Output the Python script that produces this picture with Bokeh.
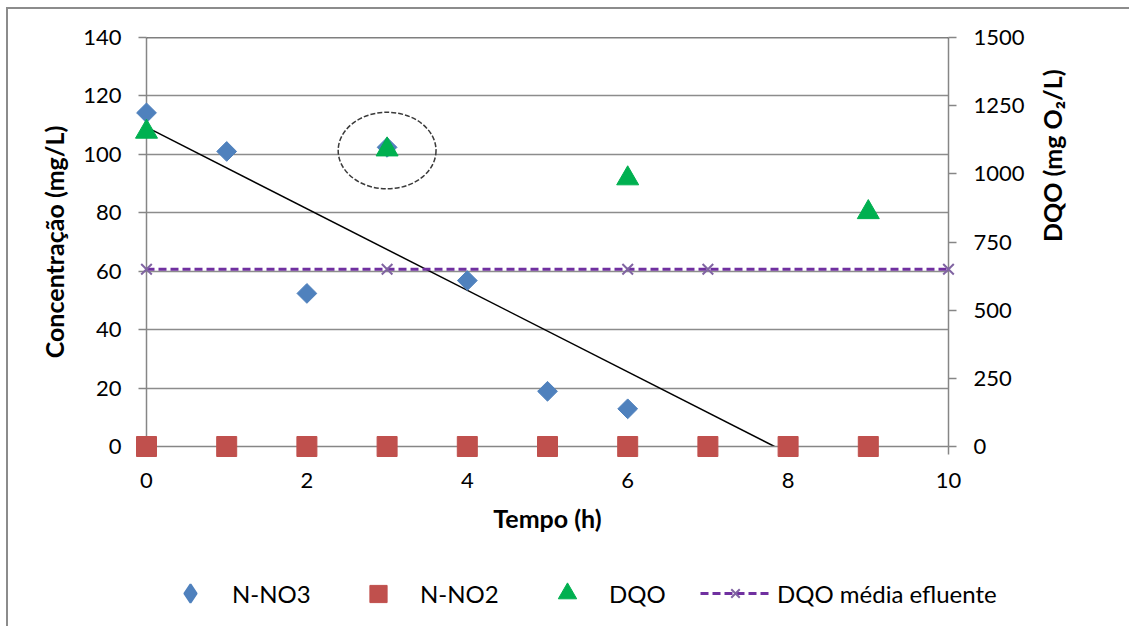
import math
from bokeh.plotting import figure
from bokeh.layouts import column
from bokeh.models import (Range1d, LinearAxis, Span, Legend, LegendItem,
                          FixedTicker, InlineStyleSheet)
from bokeh.embed import file_html
from bokeh.resources import INLINE

# ---- data ----
tempo_no3 = [0, 1, 2, 3, 4, 5, 6]
n_no3 = [114.2, 101.0, 52.4, 102.4, 56.8, 18.9, 12.9]
tempo_no2 = [0, 1, 2, 3, 4, 5, 6, 7, 8, 9]
n_no2 = [0, 0, 0, 0, 0, 0, 0, 0, 0, 0]
tempo_dqo = [0, 3, 6, 9]
dqo = [1154, 1089, 983, 859]
tempo_media = [0, 3, 6, 7, 10]
dqo_media = [650, 650, 650, 650, 650]
trend_x = [0, 7.83]
trend_y = [109.3, 0]
circle_x = [3.0]
circle_y = [101.3]
circle_w = [1.22]
circle_h = [26.2]
x_ticks = [0, 2, 4, 6, 8, 10]
left_ticks = [0, 20, 40, 60, 80, 100, 120, 140]
right_ticks = [0, 250, 500, 750, 1000, 1250, 1500]
labels = ["N-NO3", "N-NO2", "DQO", "DQO média efluente"]

FONT = "Lato"
AX = "#868686"
C_NO3, C_NO2, C_DQO, C_ML, C_MX = "#4F81BD", "#C0504D", "#00B050", "#7030A0", "#8064A2"

p = figure(width=1123, height=547,
           output_backend="svg", toolbar_location=None,
           x_range=Range1d(0, 10), y_range=Range1d(0, 140),
           min_border_left=138, min_border_right=183,
           min_border_top=28, min_border_bottom=110)
p.extra_y_ranges = {"dqo": Range1d(0, 1500)}
p.outline_line_color = None
p.background_fill_color = "white"
p.border_fill_color = "white"

p.xgrid.visible = False
p.ygrid.ticker = FixedTicker(ticks=left_ticks)
p.ygrid.grid_line_color = "#8c8c8c"
p.ygrid.grid_line_width = 1.5

right = LinearAxis(y_range_name="dqo", ticker=FixedTicker(ticks=right_ticks))
p.add_layout(right, "right")

p.xaxis.ticker = FixedTicker(ticks=x_ticks)
p.yaxis[0].ticker = FixedTicker(ticks=left_ticks)

for ax in [p.xaxis[0], p.yaxis[0], right]:
    ax.axis_line_color = AX
    ax.axis_line_width = 1.5
    ax.major_tick_line_color = AX
    ax.major_tick_line_width = 1.5
    ax.major_tick_in = 0
    ax.major_tick_out = 8
    ax.minor_tick_line_color = None
    ax.major_label_text_font = FONT
    ax.major_label_text_font_size = "22px"
    ax.major_label_text_color = "black"
    ax.axis_label_text_font = FONT
    ax.axis_label_text_font_size = "25px"
    ax.axis_label_text_font_style = "bold"
    ax.axis_label_text_color = "black"

p.xaxis[0].axis_label = "Tempo (h)"
p.xaxis[0].major_label_standoff = 18
p.xaxis[0].axis_label_standoff = 12
p.yaxis[0].axis_label = "Concentração (mg/L)"
p.yaxis[0].major_label_standoff = 17
p.yaxis[0].axis_label_standoff = 11
right.axis_label = "DQO (mg O₂/L)"
right.major_label_standoff = 17
right.axis_label_standoff = 24
right.axis_label_orientation = math.pi / 2

p.add_layout(Span(location=140, dimension="width", line_color="black", line_width=1.5))

# trend line and ellipse
p.line(trend_x, trend_y, line_color="black", line_width=1.5)
p.ellipse(x=circle_x, y=circle_y, width=circle_w, height=circle_h,
          fill_color=None, line_color="#3a3a3a", line_width=1.5, line_dash="5 2")

# mean line
p.line(tempo_media, dqo_media, y_range_name="dqo", line_color=C_ML,
       line_width=3, line_dash="8 4")
r_mx = p.scatter(tempo_media, dqo_media, y_range_name="dqo", marker="x", size=15,
                 line_color=C_MX, line_width=2)
r_mx.level = "overlay"

r_no3 = p.scatter(tempo_no3, n_no3, marker="square", angle=math.pi / 4, size=14,
                  fill_color=C_NO3, line_color=C_NO3)
r_no3.level = "overlay"
r_no2 = p.scatter(tempo_no2, n_no2, marker="square", size=20,
                  fill_color=C_NO2, line_color=C_NO2)
r_no2.level = "overlay"
r_dqo = p.scatter(tempo_dqo, dqo, y_range_name="dqo", marker="triangle", size=22,
                  fill_color=C_DQO, line_color=C_DQO)
r_dqo.level = "overlay"

# ---- legend strip: separate figure whose view range excludes the data ----
q = figure(width=1123, height=72, output_backend="svg", toolbar_location=None,
           x_range=Range1d(-200, -199), y_range=Range1d(-200, -199),
           x_axis_location=None, y_axis_location=None,
           min_border_left=0, min_border_right=0, min_border_top=0, min_border_bottom=0)
q.frame_align = False
q.grid.visible = False
q.outline_line_color = None
q.background_fill_color = "white"
q.border_fill_color = "white"

l1 = q.scatter(tempo_no3, n_no3, marker="diamond", size=20,
               fill_color=C_NO3, line_color=C_NO3, line_width=2)
l2 = q.scatter(tempo_no2, n_no2, marker="square", size=20, fill_color=C_NO2, line_color=C_NO2)
l3 = q.scatter(tempo_dqo, dqo, marker="triangle", size=22, fill_color=C_DQO, line_color=C_DQO)
l4a = q.line(tempo_media, dqo_media, line_color=C_ML, line_width=3, line_dash="8 4")
l4b = q.scatter(tempo_media, dqo_media, marker="x", size=15, line_color=C_MX, line_width=2)

groups = [[l1], [l2], [l3], [l4a, l4b]]
xs = [147, 335, 524, 692]
gh = [46, 43, 46, 30]
for lab, rs, x0, h in zip(labels, groups, xs, gh):
    lg = Legend(items=[LegendItem(label=lab, renderers=rs)], location=(x0, 35 - h / 2),
                orientation="horizontal", glyph_width=70, glyph_height=h,
                label_height=28, label_standoff=7, padding=0, margin=0, spacing=0,
                border_line_color=None, background_fill_alpha=0,
                label_text_font=FONT, label_text_font_size="24px",
                label_text_color="black")
    q.add_layout(lg, "center")

layout = column(p, q, margin=(9, 0, 0, 8), spacing=0)
layout.stylesheets = [InlineStyleSheet(css=":host { box-shadow: -2px -2px 0 0 #8c8c8c; }")]

open("out.html", "w").write(file_html(layout, INLINE))
